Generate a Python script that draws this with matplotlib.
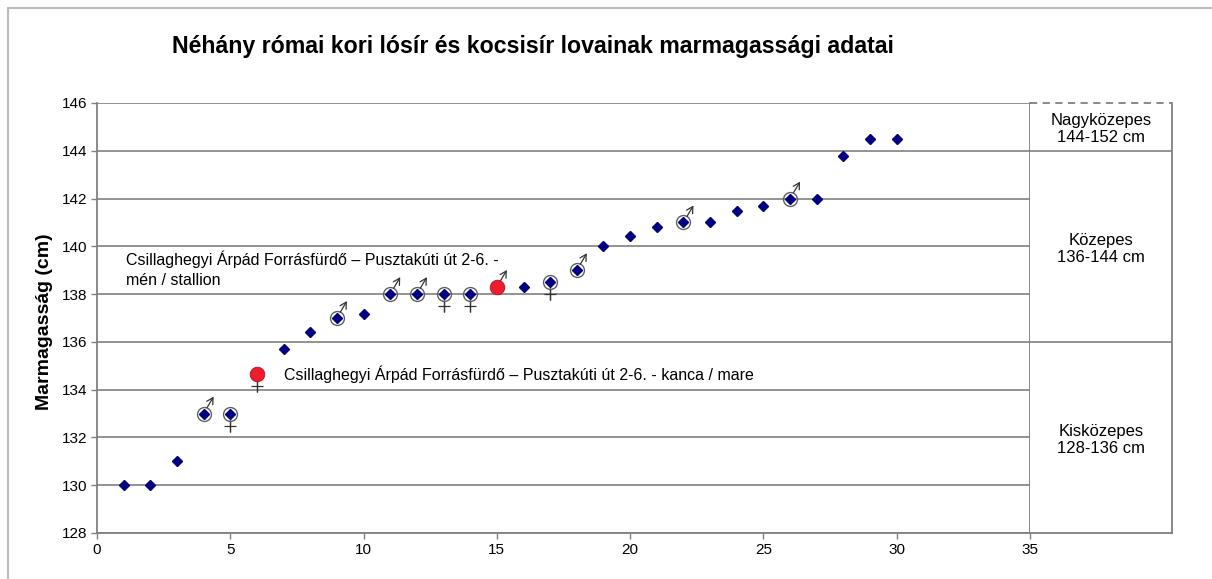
import matplotlib
matplotlib.use('Agg')
import matplotlib.pyplot as plt
from matplotlib.transforms import offset_copy
from matplotlib.patches import Rectangle

plt.rcParams['font.family'] = ['Liberation Sans', 'DejaVu Sans']

# horse number and withers height (cm)
horse_no = list(range(1, 31))
heights = [130, 130, 131, 133, 133, 134.65, 135.7, 136.4, 137, 137.15,
           138, 138, 138, 138, 138.3, 138.3, 138.5, 139, 140, 140.45,
           140.8, 141, 141, 141.5, 141.7, 142, 142, 143.8, 144.5, 144.5]
# sex of the horse: m = stallion, f = mare, '' = unknown
sex = ['', '', '', 'm', 'f', 'f', '', '', 'm', '',
       'm', 'm', 'f', 'f', 'm', '', 'f', 'm', '', '',
       '', 'm', '', '', '', 'm', '', '', '', '']
# the two Csillaghegy horses (red)
csillag = [6, 15]

size_classes = ['Nagyközepes\n144-152 cm', 'Közepes\n136-144 cm', 'Kisközepes\n128-136 cm']
class_mid = [145, 140, 132]
class_bounds = [144, 136]

title = 'Néhány római kori lósír és kocsisír lovainak marmagassági adatai'
ylabel = 'Marmagasság (cm)'
note_stallion = 'Csillaghegyi Árpád Forrásfürdő – Pusztakúti út 2-6. -\nmén / stallion'
note_mare = 'Csillaghegyi Árpád Forrásfürdő – Pusztakúti út 2-6. - kanca / mare'

W, H = 1212, 579
fig = plt.figure(figsize=(W / 100, H / 100), dpi=100)
gray = '#808080'

left, right, top, bottom = 97, 1030, 103, 533
ax = fig.add_axes([left / W, 1 - bottom / H, (right - left) / W, (bottom - top) / H])
ax.set_xlim(0, 35)
ax.set_ylim(128, 146)
ax.set_xticks(range(0, 36, 5))
ax.set_yticks(range(128, 147, 2))
ax.grid(axis='y', color=gray, lw=1.2)
ax.set_axisbelow(True)
ax.spines['top'].set_visible(False)
for s in ['left', 'bottom', 'right']:
    ax.spines[s].set_color(gray)
    ax.spines[s].set_linewidth(1.3)
ax.tick_params(direction='out', length=4, width=1, color=gray, labelsize=11, pad=3)

# plain diamonds
dx = [x for x in horse_no if x not in csillag]
dy = [heights[x - 1] for x in dx]
ax.plot(dx, dy, 'D', ms=5, color='#000080', ls='none', zorder=4)

# rings round the sexed horses
rx = [x for x in horse_no if sex[x - 1] and x not in csillag]
ry = [heights[x - 1] for x in rx]
ax.plot(rx, ry, 'o', ms=10, mfc='none', mec='#606060', mew=1.0, ls='none', zorder=3)

# red Csillaghegy horses
cy = [heights[x - 1] for x in csillag]
ax.plot(csillag, cy, 'o', ms=10.5, color='#ee1c2e', mec='#b01020', mew=0.6, ls='none', zorder=5)

# sex symbols
for x, y, s in zip(horse_no, heights, sex):
    if s == 'm':
        ax.annotate('', xy=(x, y), xycoords=offset_copy(ax.transData, fig, x=10, y=17, units='dots'),
                    xytext=(x, y), textcoords=offset_copy(ax.transData, fig, x=3.5, y=6, units='dots'),
                    arrowprops=dict(arrowstyle='->,head_length=0.45,head_width=0.25', lw=0.9,
                                    color='#333333', shrinkA=0, shrinkB=0))
    elif s == 'f':
        ax.plot([x, x], [y, y], marker='|', ms=8, color='#333333', mew=0.9,
                transform=offset_copy(ax.transData, fig, x=0, y=-12, units='dots'))
        ax.plot(x, y, marker='_', ms=9, color='#333333', mew=0.9,
                transform=offset_copy(ax.transData, fig, x=0, y=-12, units='dots'))

ax.text(1.1, 139.03, note_stallion, fontsize=11.5, va='center', ha='left', linespacing=1.45)
ax.text(7.0, 134.65, note_mare, fontsize=11.5, va='center', ha='left')

# size class panel to the right
pr = 1172
ax2 = fig.add_axes([right / W, 1 - bottom / H, (pr - right) / W, (bottom - top) / H])
ax2.set_xlim(0, 1)
ax2.set_ylim(128, 146)
ax2.set_xticks([])
ax2.set_yticks([])
ax2.spines['top'].set_visible(False)
ax2.spines['left'].set_visible(False)
for s in ['right', 'bottom']:
    ax2.spines[s].set_color(gray)
    ax2.spines[s].set_linewidth(1.3)
ax2.axhline(146, color=gray, lw=1.3, ls=(0, (4, 3)), clip_on=False)
for b in class_bounds:
    ax2.axhline(b, color=gray, lw=1.2)
for lab, m in zip(size_classes, class_mid):
    ax2.text(0.5, m - 0.1, lab, ha='center', va='center', fontsize=12, linespacing=1.2)

fig.text(533 / W, 1 - 46 / H, title, ha='center', va='center', fontsize=16.7, fontweight='bold')
fig.text(45 / W, 1 - 322 / H, ylabel, ha='center', va='center', rotation=90, fontsize=14, fontweight='bold')

fig.patches.append(Rectangle((8 / W, -0.05), 1.2, 1 - 8 / H + 0.05, transform=fig.transFigure,
                             fill=False, ec='#bbbbbb', lw=1.5))

fig.savefig('out.png', dpi=100)
